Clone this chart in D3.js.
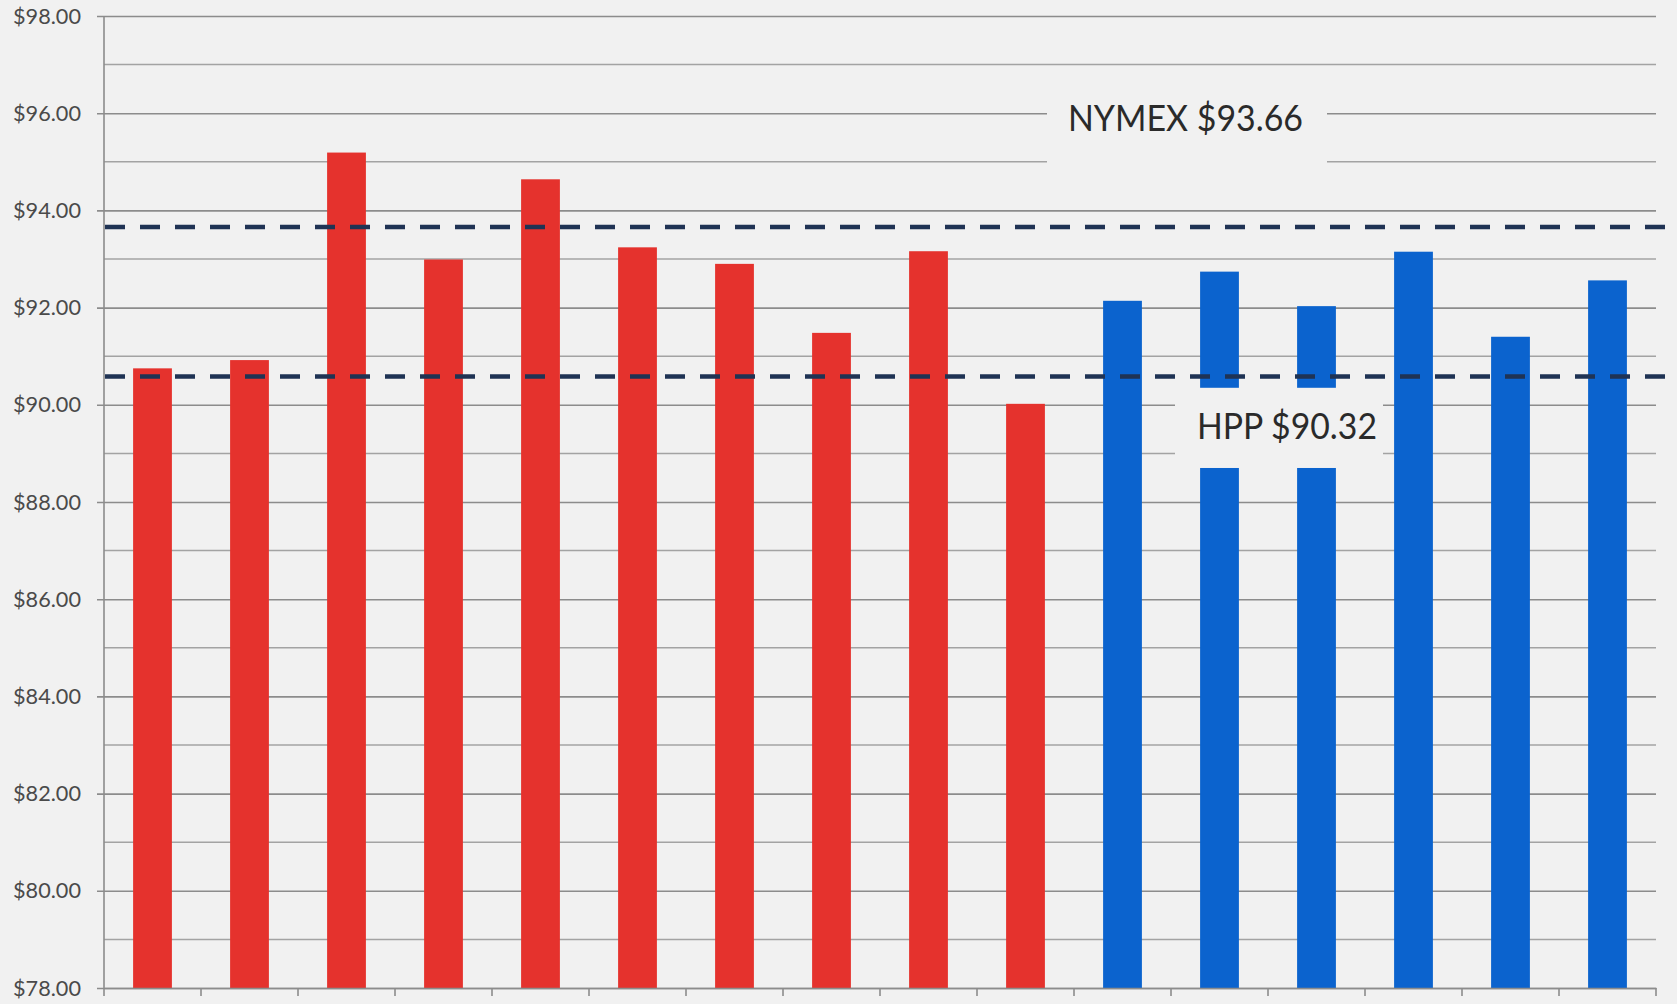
<!DOCTYPE html>
<html>
<head>
<meta charset="utf-8">
<script src="https://cdn.jsdelivr.net/npm/d3@7"></script>
<style>
  html, body { margin: 0; padding: 0; background: #f1f1f1; }
  svg { display: block; }
</style>
</head>
<body>
<svg id="chart" width="1677" height="1004"></svg>
<script>
// ---- data ----
const categories = ["1","2","3","4","5","6","7","8","9","10","11","12","13","14","15","16"];
const redValues  = [90.75, 90.92, 95.19, 92.99, 94.64, 93.24, 92.90, 91.48, 93.16, 90.02];
const blueValues = [92.14, 92.74, 92.03, 93.15, 91.40, 92.56];
const majorTicks = [78, 80, 82, 84, 86, 88, 90, 92, 94, 96, 98];
const minorTicks = [79, 81, 83, 85, 87, 89, 91, 93, 95, 97];
const refLabels  = ["NYMEX $93.66", "HPP $90.32"];
const refValues  = [93.66, 90.58];

// ---- layout ----
const W = 1677, H = 1004;
const plotL = 104, plotR = 1656, plotT = 16, plotB = 988;
const bg = "#f1f1f1";
const svg = d3.select("#chart");
svg.append("rect").attr("width", W).attr("height", H).attr("fill", bg);

const x = d3.scaleBand().domain(categories).range([plotL, plotR])
  .paddingInner(0.6).paddingOuter(0.3);
const y = d3.scaleLinear().domain([78, 98]).range([plotB, plotT]);

const bars = categories.map((c, i) => ({
  cat: c,
  value: i < redValues.length ? redValues[i] : blueValues[i - redValues.length],
  color: i < redValues.length ? "#e5322d" : "#0b63ce"
}));

// minor gridlines
svg.append("g").selectAll("line").data(minorTicks).join("line")
  .attr("x1", plotL).attr("x2", plotR)
  .attr("y1", d => y(d)).attr("y2", d => y(d))
  .attr("stroke", "#a3a3a3").attr("stroke-width", 1.5);

// major gridlines via axis
const yAxis = d3.axisLeft(y).tickValues(majorTicks)
  .tickFormat(d => "$" + d3.format(".2f")(d))
  .tickSize(-(plotR - plotL)).tickPadding(23);
const gy = svg.append("g").attr("transform", `translate(${plotL},0)`).call(yAxis);
gy.select(".domain").remove();
gy.selectAll(".tick line").attr("stroke", "#8c8c8c").attr("stroke-width", 1.6).attr("x1", -7);
gy.selectAll(".tick text").attr("fill", "#4a4a4a")
  .style("font-family", "Lato, 'Open Sans', sans-serif").style("font-size", "22px")
  .attr("textLength", 68).attr("lengthAdjust", "spacingAndGlyphs");

// y axis line
svg.append("line").attr("x1", plotL).attr("x2", plotL).attr("y1", plotT).attr("y2", plotB)
  .attr("stroke", "#8c8c8c").attr("stroke-width", 1.6);

// bars
svg.append("g").selectAll("rect").data(bars).join("rect")
  .attr("x", d => x(d.cat)).attr("width", x.bandwidth())
  .attr("y", d => y(d.value)).attr("height", d => y(78) - y(d.value))
  .attr("fill", d => d.color);

// x axis
const xAxis = d3.axisBottom(x).tickSize(0).tickFormat("");
const gx = svg.append("g").attr("transform", `translate(0,${plotB})`).call(xAxis);
gx.select(".domain").attr("stroke", "#8c8c8c").attr("stroke-width", 1.6);
const bounds = d3.range(categories.length + 1).map(i => plotL + i * x.step());
gx.selectAll(".bt").data(bounds).join("line").attr("class", "bt")
  .attr("x1", d => d).attr("x2", d => d).attr("y1", 0).attr("y2", 8)
  .attr("stroke", "#8c8c8c").attr("stroke-width", 1.6);

// annotation boxes (cover gridlines and bars)
svg.append("rect").attr("x", 1047).attr("y", y(96.8)).attr("width", 280)
  .attr("height", y(94.3) - y(96.8)).attr("fill", bg);
svg.append("rect").attr("x", 1175).attr("y", y(90.35)).attr("width", 208)
  .attr("height", y(88.7) - y(90.35)).attr("fill", bg);

svg.append("text").attr("x", 1068).attr("y", 131).text(refLabels[0])
  .attr("fill", "#2a2a2a").style("font-family", "Lato, 'Open Sans', sans-serif")
  .style("font-size", "36px").attr("textLength", 235).attr("lengthAdjust", "spacingAndGlyphs");
svg.append("text").attr("x", 1197).attr("y", 439).text(refLabels[1])
  .attr("fill", "#2a2a2a").style("font-family", "Lato, 'Open Sans', sans-serif")
  .style("font-size", "36px").attr("textLength", 180).attr("lengthAdjust", "spacingAndGlyphs");

// reference dashed lines
svg.append("g").selectAll("line").data(refValues).join("line")
  .attr("x1", plotL + 1).attr("x2", 1672)
  .attr("y1", d => y(d)).attr("y2", d => y(d))
  .attr("stroke", "#1f3354").attr("stroke-width", 4.5)
  .attr("stroke-dasharray", "20,15");
</script>
</body>
</html>
